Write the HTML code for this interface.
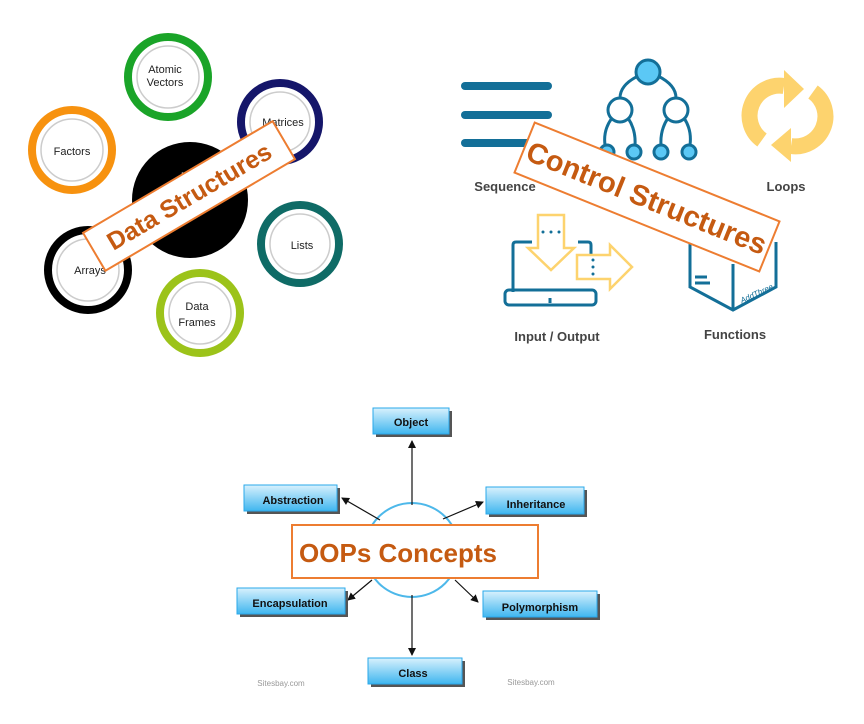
<!DOCTYPE html>
<html><head><meta charset="utf-8"><style>
html,body{margin:0;padding:0;background:#fff;}
svg{display:block;}
text{font-family:"Liberation Sans","DejaVu Sans",sans-serif;}
</style></head><body>
<svg width="864" height="724" viewBox="0 0 864 724" xmlns="http://www.w3.org/2000/svg">
<defs>
<linearGradient id="bg" x1="0" y1="0" x2="0" y2="1">
<stop offset="0" stop-color="#d9f1fd"/><stop offset="1" stop-color="#3fb6ef"/>
</linearGradient>
<marker id="ar" markerWidth="8" markerHeight="8" refX="7" refY="4" orient="auto" markerUnits="userSpaceOnUse">
<path d="M0,0 L8,4 L0,8 z" fill="#111"/></marker>
</defs>

<!-- Data structures -->
<circle cx="190" cy="200" r="58" fill="#000"/>
<text x="180" y="188" font-size="22" fill="#fff">D</text>
<g stroke-width="8" fill="#fff">
<circle cx="168" cy="77" r="40" stroke="#1aa428"/>
<circle cx="72" cy="150" r="40" stroke="#f7920f"/>
<circle cx="280" cy="122" r="39" stroke="#15166a"/>
<circle cx="300" cy="244" r="39" stroke="#0f6b66"/>
<circle cx="88" cy="270" r="40" stroke="#000"/>
<circle cx="200" cy="313" r="40" stroke="#9cc31a"/>
</g>
<g fill="none" stroke="#ccc" stroke-width="1.5">
<circle cx="168" cy="77" r="31"/><circle cx="72" cy="150" r="31"/><circle cx="280" cy="122" r="30"/>
<circle cx="300" cy="244" r="30"/><circle cx="88" cy="270" r="31"/><circle cx="200" cy="313" r="31"/>
</g>
<g font-size="11" fill="#222" text-anchor="middle">
<text x="165" y="73">Atomic</text><text x="165" y="86">Vectors</text>
<text x="72" y="155">Factors</text>
<text x="283" y="126">Matrices</text>
<text x="302" y="249">Lists</text>
<text x="90" y="274">Arrays</text>
<text x="197" y="310">Data</text><text x="197" y="326">Frames</text>
</g>
<g transform="translate(189,196) rotate(-30.5)">
<rect x="-110" y="-22" width="220" height="44" fill="#fff" stroke="#ed7d31" stroke-width="2"/>
<text x="0" y="9" font-size="25" font-weight="bold" fill="#c55a11" text-anchor="middle">Data Structures</text>
</g>

<!-- Control structures -->
<g stroke="#136f98" stroke-width="8" stroke-linecap="round">
<line x1="465" y1="86" x2="548" y2="86"/><line x1="465" y1="115" x2="548" y2="115"/><line x1="465" y1="143" x2="548" y2="143"/>
</g>
<g stroke="#136f98" stroke-width="3" fill="none">
<path d="M638,76 Q620,85 620,98"/><path d="M658,76 Q676,85 676,98"/>
<path d="M612,118 Q603,130 605,145"/><path d="M628,118 Q636,130 635,145"/>
<path d="M668,118 Q660,130 661,145"/><path d="M684,118 Q692,130 690,145"/>
</g>
<g stroke="#136f98" stroke-width="3">
<circle cx="648" cy="72" r="12" fill="#5bc8f5"/>
<circle cx="620" cy="110" r="12" fill="#fff"/><circle cx="676" cy="110" r="12" fill="#fff"/>
<circle cx="607" cy="152" r="7" fill="#5bc8f5"/><circle cx="634" cy="152" r="7" fill="#5bc8f5"/>
<circle cx="661" cy="152" r="7" fill="#5bc8f5"/><circle cx="689" cy="152" r="7" fill="#5bc8f5"/>
</g>
<g fill="none" stroke="#fdd36e" stroke-width="16">
<path d="M762,140 A30,30 0 0 1 784,86"/>
<path d="M813,92 A30,30 0 0 1 791,146"/>
</g>
<path d="M784,70 L804,89 L784,108 z" fill="#fdd36e"/>
<path d="M791,128 L771,145 L791,162 z" fill="#fdd36e"/>
<g font-size="13" font-weight="bold" fill="#444" text-anchor="middle">
<text x="505" y="191">Sequence</text><text x="786" y="191">Loops</text>
<text x="557" y="341">Input / Output</text><text x="735" y="339">Functions</text>
</g>
<!-- laptop -->
<g stroke="#136f98" stroke-width="3" fill="none">
<path d="M513,292 L513,245 Q513,242 516,242 L532,242"/>
<path d="M578,242 L588,242 Q591,242 591,245 L591,254"/>
<rect x="505" y="290" width="91" height="15" rx="4"/>
<line x1="550" y1="298" x2="550" y2="303"/>
<path d="M690,242 L690,287 L733,310 L776,287 L776,242"/><line x1="733" y1="264" x2="733" y2="310"/>
<line x1="695" y1="277" x2="707" y2="277"/><line x1="695" y1="283" x2="710" y2="283"/>
</g>
<path d="M538,215 L564,215 L564,248 L574,248 L551,270 L528,248 L538,248 z" fill="#fff" stroke="#fdd36e" stroke-width="2.5"/>
<path d="M577,255 L610,255 L610,245 L632,267 L610,289 L610,279 L577,279 z" fill="#fff" stroke="#fdd36e" stroke-width="2.5"/>
<g fill="#136f98"><circle cx="543" cy="232" r="1.5"/><circle cx="551" cy="232" r="1.5"/><circle cx="559" cy="232" r="1.5"/>
<circle cx="593" cy="260" r="1.5"/><circle cx="593" cy="267" r="1.5"/><circle cx="593" cy="274" r="1.5"/></g>
<text x="738" y="298" font-size="8" fill="#136f98" font-style="italic" transform="rotate(-25 752 292)">AddThree</text>
<g transform="translate(647,197) rotate(22)">
<rect x="-132" y="-27" width="264" height="54" fill="#fff" stroke="#ed7d31" stroke-width="2"/>
<text x="0" y="11" font-size="29" font-weight="bold" fill="#c55a11" text-anchor="middle">Control Structures</text>
</g>

<!-- OOPs -->
<circle cx="412" cy="550" r="47" fill="#fff" stroke="#4db8ea" stroke-width="2"/>
<g stroke="#111" stroke-width="1.2" marker-end="url(#ar)">
<line x1="412" y1="505" x2="412" y2="441"/>
<line x1="380" y1="520" x2="342" y2="498"/>
<line x1="443" y1="519" x2="483" y2="502"/>
<line x1="372" y1="580" x2="348" y2="600"/>
<line x1="455" y1="580" x2="478" y2="602"/>
<line x1="412" y1="595" x2="412" y2="655"/>
</g>
<g fill="#555">
<rect x="376" y="411" width="76" height="26"/><rect x="247" y="488" width="93" height="26"/>
<rect x="489" y="490" width="98" height="27"/><rect x="240" y="591" width="108" height="26"/>
<rect x="486" y="594" width="114" height="26"/><rect x="371" y="661" width="94" height="26"/>
</g>
<g fill="url(#bg)" stroke="#2aa8ea" stroke-width="1">
<rect x="373" y="408" width="76" height="26"/><rect x="244" y="485" width="93" height="26"/>
<rect x="486" y="487" width="98" height="27"/><rect x="237" y="588" width="108" height="26"/>
<rect x="483" y="591" width="114" height="26"/><rect x="368" y="658" width="94" height="26"/>
</g>
<g font-size="11" font-weight="bold" fill="#111" text-anchor="middle">
<text x="411" y="426">Object</text><text x="293" y="504">Abstraction</text>
<text x="536" y="508">Inheritance</text><text x="290" y="607">Encapsulation</text>
<text x="540" y="611">Polymorphism</text><text x="413" y="677">Class</text>
</g>
<g font-size="8" fill="#999" text-anchor="middle"><text x="281" y="686">Sitesbay.com</text><text x="531" y="685">Sitesbay.com</text></g>
<rect x="292" y="525" width="246" height="53" fill="#fff" stroke="#ed7d31" stroke-width="2"/>
<text x="398" y="562" font-size="26" font-weight="bold" fill="#c55a11" text-anchor="middle">OOPs Concepts</text>
</svg>
</body></html>
